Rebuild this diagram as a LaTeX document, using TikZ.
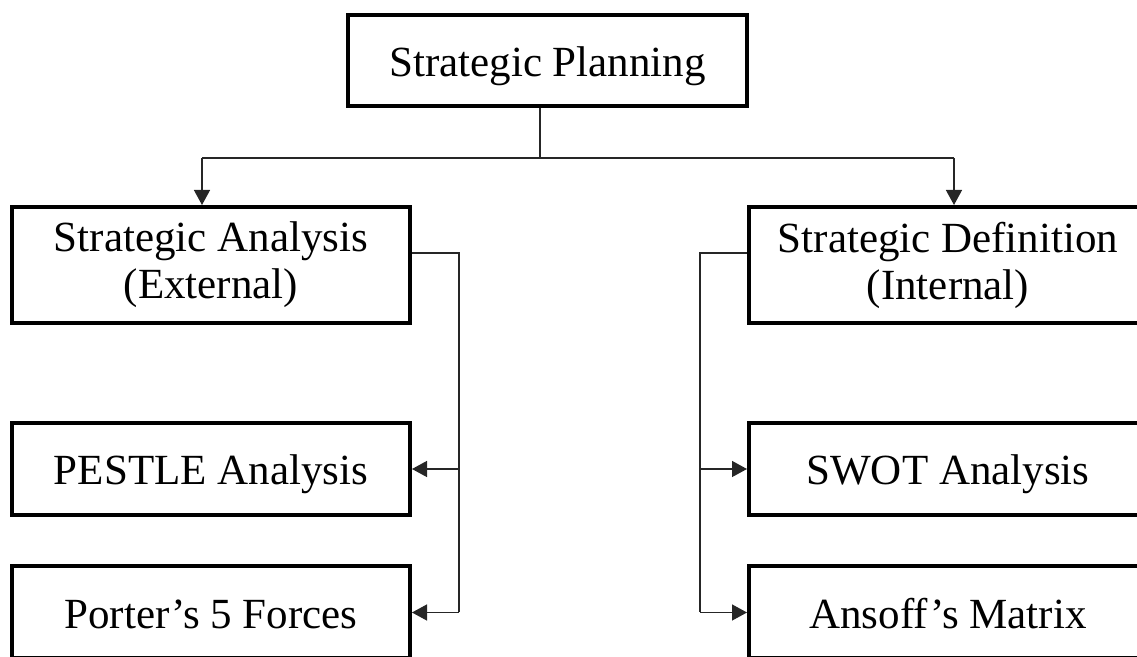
\documentclass[tikz,border=0pt]{standalone}
\usepackage{fontspec}
\setmainfont{Liberation Serif}
\usetikzlibrary{arrows.meta}
\tikzset{
  box/.style={draw=black, line width=2pt, rectangle, inner sep=0pt,
    minimum width=199pt, align=center, font=\fontsize{21.5}{23.5}\selectfont},
  onebox/.style={box, minimum height=46pt, text height=20pt, text depth=4pt},
  conn/.style={draw=black!85, line width=0.7pt},
  tip/.style={conn, -{Triangle[width=8pt,length=7.5pt]}}
}
\begin{document}
\begin{tikzpicture}[x=0.5pt,y=-0.5pt]
\useasboundingbox (0,0) rectangle (1137,657);
\clip (0,0) rectangle (1137,657);
% nodes
\node[onebox, minimum width=199.5pt, minimum height=45.5pt] (top) at (547.5,60.5) {Strategic Planning};
\node[box, minimum height=58pt] (sa) at (211,265) {Strategic Analysis\\(External)};
\node[onebox] (pestle) at (211,469) {PESTLE Analysis};
\node[onebox] (porter) at (211,612.5) {Porter’s 5 Forces};
\node[box, minimum height=58pt] (sd) at (948,265) {Strategic Definition\\(Internal)};
\node[onebox] (swot) at (948,469) {SWOT Analysis};
\node[onebox] (ansoff) at (948,612.5) {Ansoff’s Matrix};
% junction coordinates
\coordinate (j) at (540,158);
\coordinate (jl) at (202,158);
\coordinate (jr) at (954,158);
\coordinate (lb) at (459,253);
\coordinate (rb) at (700,253);
% top connectors
\draw[conn] (top.south -| j) -- (j);
\draw[conn] (jl) -- (jr);
\draw[tip] (jl) -- (jl |- sa.north);
\draw[tip] (jr) -- (jr |- sd.north);
% left branch
\draw[conn] (sa.east |- lb) -- (lb) -- (lb |- porter.east);
\draw[tip] (lb |- pestle.east) -- (pestle.east);
\draw[tip] (lb |- porter.east) -- (porter.east);
% right branch
\draw[conn] (sd.west |- rb) -- (rb) -- (rb |- ansoff.west);
\draw[tip] (rb |- swot.west) -- (swot.west);
\draw[tip] (rb |- ansoff.west) -- (ansoff.west);
\end{tikzpicture}
\end{document}
